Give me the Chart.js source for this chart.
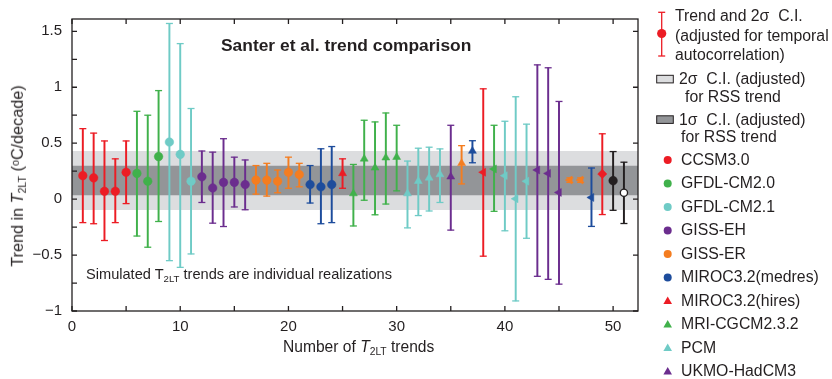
<!DOCTYPE html>
<html><head><meta charset="utf-8">
<script src="https://cdn.jsdelivr.net/npm/chart.js@4.4.1/dist/chart.umd.min.js"></script>
<style>
body{margin:0;background:#fff;}
#wrap{position:relative;width:832px;height:379px;font-family:"Liberation Sans",Arial,Helvetica,sans-serif;color:#231f20;overflow:hidden;}
#c{position:absolute;left:0;top:0;}
.t{position:absolute;white-space:nowrap;line-height:1;}
.sub{font-size:0.66em;position:relative;top:0.3em;font-style:normal;}
.sup{font-size:0.66em;position:relative;top:-0.4em;}
.lg{font-size:15.8px;}
#leg{position:absolute;left:640px;top:0;}
</style></head>
<body>
<div id="wrap">
<canvas id="c" width="832" height="379"></canvas>
<div class="t" style="left:221px;top:37px;font-size:17.4px;font-weight:bold;">Santer et al. trend comparison</div>
<div class="t" style="left:86px;top:267px;font-size:14.6px;">Simulated T<span class="sub">2LT</span> trends are individual realizations</div>
<div class="t" style="left:283px;top:339px;font-size:15.6px;">Number of <i>T</i><span class="sub">2LT</span> trends</div>
<div class="t" style="left:17px;top:176px;font-size:16.2px;transform:translate(-50%,-50%) rotate(-90deg);">Trend in <i>T</i><span class="sub">2LT</span> (<span class="sup">o</span>C/decade)</div>
<svg id="leg" width="192" height="379"></svg>
<div id="legtext"></div>
</div>
<script>
// ---- data ----
const realization = [1,2,3,4,5,6,7,8,9,10,11,12,13,14,15,16,17,18,19,20,21,22,23,24,25,26,27,28,29,30,31,32,33,34,35,36,37,38,39,40,41,42,43,44,45,46,47,48,49,50,51];
const trend = [0.21,0.19,0.07,0.07,0.24, 0.23,0.16,0.38, 0.51,0.40,0.16, 0.20,0.10,0.15,0.15,0.13, 0.17,0.17,0.16,0.24,0.22, 0.13,0.11,0.13, 0.23, 0.05,0.36,0.28,0.37,0.375, 0.05,0.16,0.19,0.22, 0.20, 0.32, 0.43, 0.24, 0.27, 0.21,0.003,0.16, 0.26,0.23,0.06, 0.17,0.17, 0.015, 0.225, 0.165, 0.057];
const upper = [0.63,0.59,0.52,0.36,0.52, 0.785,0.75,0.97, 1.57,1.39,0.81, 0.43,0.42,0.54,0.375,0.35, 0.30,0.32,0.26,0.375,0.32, 0.30,0.45,0.47, 0.36, 0.31,0.705,0.69,0.77,0.66, 0.34,0.455,0.464,0.449, 0.66, 0.478, 0.522, 0.986, 0.66, 0.696,0.915,0.67, 1.20,1.174,0.873, 0.19,0.19, 0.278, 0.584, 0.425, 0.33];
const lower = [-0.21,-0.22,-0.37,-0.21,-0.04, -0.33,-0.43,-0.20, -0.55,-0.61,-0.49, -0.03,-0.215,-0.245,-0.07,-0.095, 0.045,0.027,0.057,0.097,0.11, -0.035,-0.22,-0.21, 0.097, -0.24,-0.01,-0.14,-0.044,0.074, -0.257,-0.147,-0.106,-0.03, -0.277, 0.136, 0.325, -0.51, -0.109, -0.283,-0.91,-0.35, -0.69,-0.717,-0.76, 0.15,0.15, -0.244, -0.138, -0.10, -0.218];
// group of each point: 0..9 = models, 10 = RSS (black)
const group = [0,0,0,0,0, 1,1,1, 2,2,2, 3,3,3,3,3, 4,4,4,4,4, 5,5,5, 6, 7,7,7,7,7, 8,8,8,8, 9, 4, 5, 0, 1, 2,2,2, 3,3,3, 4,4, 5, 0, 10, 10];
const marker = ['c','c','c','c','c','c','c','c','c','c','c','c','c','c','c','c','c','c','c','c','c','c','c','c',
  'u','u','u','u','u','u','u','u','u','u','u','u','u',
  'l','l','l','l','l','l','l','l','l','l','l',
  'd','c','o'];
const modelNames = ['CCSM3.0','GFDL-CM2.0','GFDL-CM2.1','GISS-EH','GISS-ER','MIROC3.2(medres)','MIROC3.2(hires)','MRI-CGCM2.3.2','PCM','UKMO-HadCM3'];
const modelMarker = ['c','c','c','c','c','c','u','u','u','u'];
const rssTrend = 0.166, rss1sigma = 0.132, rss2sigma = 0.264;
const xTickValues = [0,5,10,15,20,25,30,35,40,45,50];
const xTickLabels = {0:'0',10:'10',20:'20',30:'30',40:'40',50:'50'};
const yTickValues = [-1,-0.75,-0.5,-0.25,0,0.25,0.5,0.75,1,1.25,1.5];
const yTickLabels = {'-1':'\u22121','-0.5':'\u22120.5','0':'0','0.5':'0.5','1':'1','1.5':'1.5'};
const xRange = [0, 52.3], yRange = [-1, 1.61];

// ---- styles ----
const palette = ['#ec1c24','#40b14b','#6fcbc6','#6b2d8e','#f47d20','#1d4c9c','#ec1c24','#40b14b','#6fcbc6','#6b2d8e','#231f20'];
const ink = '#231f20';
const col = group.map(g=>palette[g]);
const styleOf = m => m==='u'||m==='l' ? 'triangle' : (m==='d' ? 'rectRot' : 'circle');

const bandLine = (yv, fill, color, order) => ({
  type:'line', data: xRange.map(x=>({x, y:yv})), borderWidth:0, pointRadius:0,
  fill, backgroundColor: color, order
});

const chart = new Chart(document.getElementById('c'), {
  type:'scatter',
  data:{datasets:[
    bandLine(rssTrend+rss2sigma, '+1', '#dcdddf', 10),
    bandLine(rssTrend-rss2sigma, false, 'rgba(0,0,0,0)', 10),
    bandLine(rssTrend+rss1sigma, '+1', '#939598', 9),
    bandLine(rssTrend-rss1sigma, false, 'rgba(0,0,0,0)', 9),
    {type:'bar', data: realization.map((x,i)=>({x, y:[lower[i], upper[i]]})), backgroundColor: col,
     borderWidth:0, barThickness:1.3, grouped:false, order:3},
    {type:'scatter', data: realization.flatMap((x,i)=>[{x,y:lower[i]},{x,y:upper[i]}]),
     pointStyle:'line', pointRadius:3.5, pointBorderWidth:1.3, pointBorderColor: realization.flatMap((x,i)=>[col[i],col[i]]), order:2},
    {type:'scatter', data: realization.map((x,i)=>({x, y:trend[i]})),
     pointStyle: marker.map(styleOf),
     rotation: marker.map(m=> m==='l' ? 270 : 0),
     pointRadius: marker.map(m=> m==='c' ? 4.3 : (m==='o' ? 3.6 : 4.6)),
     pointBackgroundColor: marker.map((m,i)=> m==='o' ? '#ffffff' : col[i]),
     pointBorderColor: col,
     pointBorderWidth: marker.map(m=> m==='o' ? 1.3 : 0.5),
     order:1}
  ]},
  options:{
    responsive:false, animation:false, events:[],
    layout:{padding:{left:0, top:16, right:194, bottom:0}},
    plugins:{legend:{display:false}, tooltip:{enabled:false}},
    scales:{
      x:{type:'linear', min:xRange[0], max:xRange[1], offset:false,
         afterBuildTicks:s=>{s.ticks = xTickValues.map(v=>({value:v}));},
         afterFit:s=>{s.height = 68;},
         grid:{display:false, drawTicks:false}, border:{display:false},
         ticks:{autoSkip:false, maxRotation:0, padding:7, color:ink, font:{family:'"Liberation Sans", Arial, sans-serif', size:15},
                callback:v=> xTickLabels[v] ?? ''}},
      y:{type:'linear', min:yRange[0], max:yRange[1],
         afterBuildTicks:s=>{s.ticks = yTickValues.map(v=>({value:v}));},
         afterFit:s=>{s.width = 72;},
         grid:{display:false, drawTicks:false}, border:{display:false},
         ticks:{autoSkip:false, padding:10, color:ink, font:{family:'"Liberation Sans", Arial, sans-serif', size:15},
                callback:v=> yTickLabels[String(v)] ?? ''}}
    }
  },
  plugins:[{
    id:'frameTicks',
    afterDatasetsDraw(ch){
      const {ctx, chartArea:a, scales:{x,y}} = ch;
      ctx.save();
      ctx.strokeStyle = ink; ctx.lineWidth = 1.3;
      ctx.strokeRect(a.left, a.top, a.right-a.left, a.bottom-a.top);
      const L = 5;
      ctx.beginPath();
      x.ticks.forEach(t=>{const p = x.getPixelForValue(t.value);
        ctx.moveTo(p, a.bottom); ctx.lineTo(p, a.bottom-L); ctx.moveTo(p, a.top); ctx.lineTo(p, a.top+L);});
      y.ticks.forEach(t=>{const p = y.getPixelForValue(t.value);
        ctx.moveTo(a.left, p); ctx.lineTo(a.left+L, p);
        if (yTickLabels[String(t.value)] !== undefined){ ctx.moveTo(a.right, p); ctx.lineTo(a.right-L, p);} });
      ctx.stroke();
      ctx.restore();
    }
  }]
});

// ---- legend (HTML text + SVG icons) ----
const svg = document.getElementById('leg');
const lt = document.getElementById('legtext');
const NS = 'http://www.w3.org/2000/svg';
function el(tag, attrs){const e=document.createElementNS(NS,tag); for(const k in attrs) e.setAttribute(k,attrs[k]); svg.appendChild(e); return e;}
function txt(html, left, cy){const d=document.createElement('div'); d.className='t lg'; d.style.left=left+'px'; d.style.top=(cy-8.3)+'px'; d.innerHTML=html; lt.appendChild(d);}
// error-bar entry
el('line',{x1:21.7,y1:12.3,x2:21.7,y2:56,stroke:palette[0],'stroke-width':1.3});
el('line',{x1:18.2,y1:12.3,x2:25.2,y2:12.3,stroke:palette[0],'stroke-width':1.3});
el('line',{x1:18.2,y1:56,x2:25.2,y2:56,stroke:palette[0],'stroke-width':1.3});
el('circle',{cx:21.7,cy:33.5,r:4.6,fill:palette[0]});
txt('Trend and 2\u03c3&nbsp; C.I.', 675, 16);
txt('(adjusted for temporal', 675, 36);
txt('autocorrelation)', 675, 55);
el('rect',{x:16.7,y:75.3,width:16.6,height:7.6,fill:'#dcdddf',stroke:ink,'stroke-width':1});
txt('2\u03c3&nbsp; C.I. (adjusted)', 679, 79);
txt('for RSS trend', 685, 97);
el('rect',{x:16.7,y:115.8,width:16.6,height:7.6,fill:'#939598',stroke:ink,'stroke-width':1});
txt('1\u03c3&nbsp; C.I. (adjusted)', 679, 120);
txt('for RSS trend', 681, 137);
modelNames.forEach((name,i)=>{
  const cy = 160 + i*23.5, cx = 27.7;
  if (modelMarker[i]==='c') el('circle',{cx, cy, r:4, fill:palette[i]});
  else el('polygon',{points:`${cx},${cy-4.6} ${cx+4.3},${cy+3} ${cx-4.3},${cy+3}`, fill:palette[i]});
  txt(name, 681, cy);
});
</script>
</body></html>
